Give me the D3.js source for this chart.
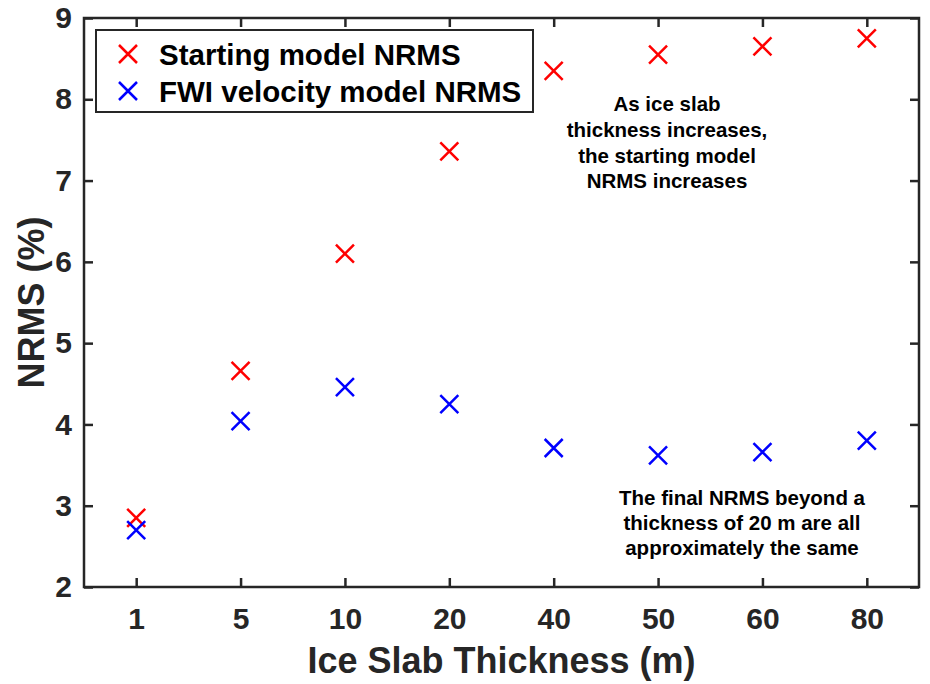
<!DOCTYPE html>
<html>
<head>
<meta charset="utf-8">
<script src="https://cdn.jsdelivr.net/npm/d3@7"></script>
<style>
  body { margin: 0; background: #fff; }
  text { font-family: 'Liberation Sans', Arial, Helvetica, sans-serif; font-weight: bold; }
</style>
</head>
<body>
<svg id="chart" width="930" height="684"></svg>
<script>
const thickness = ['1', '5', '10', '20', '40', '50', '60', '80'];
const startingNrms = [2.85, 4.66, 6.1, 7.36, 8.35, 8.55, 8.65, 8.75];
const fwiNrms = [2.7, 4.04, 4.46, 4.25, 3.71, 3.62, 3.66, 3.8];
const yTicks = [2, 3, 4, 5, 6, 7, 8, 9];

const svg = d3.select('#chart');
const plotLeft = 84, plotRight = 919, plotTop = 18, plotBottom = 587;
const axisColor = '#262626';

const x = d3.scalePoint().domain(thickness).range([plotLeft, plotRight]).padding(0.5);
const y = d3.scaleLinear().domain([2, 9]).range([plotBottom, plotTop]);

// box
svg.append('rect')
  .attr('x', plotLeft).attr('y', plotTop)
  .attr('width', plotRight - plotLeft).attr('height', plotBottom - plotTop)
  .attr('fill', 'none').attr('stroke', axisColor).attr('stroke-width', 2.5);

// axes with inward ticks
const tickLen = 9;
const xAxis = svg.append('g').attr('transform', `translate(0,${plotBottom})`)
  .call(d3.axisBottom(x).tickSizeInner(-tickLen).tickSizeOuter(0).tickPadding(21));
const xTop = svg.append('g').attr('transform', `translate(0,${plotTop})`)
  .call(d3.axisTop(x).tickSizeInner(-tickLen).tickSizeOuter(0).tickFormat(''));
const yAxis = svg.append('g').attr('transform', `translate(${plotLeft},0)`)
  .call(d3.axisLeft(y).tickValues(yTicks).tickSizeInner(-tickLen).tickSizeOuter(0).tickPadding(12).tickFormat(d3.format('d')));
const yRight = svg.append('g').attr('transform', `translate(${plotRight},0)`)
  .call(d3.axisRight(y).tickValues(yTicks).tickSizeInner(-tickLen).tickSizeOuter(0).tickFormat(''));

[xAxis, xTop, yAxis, yRight].forEach(g => {
  g.select('.domain').remove();
  g.selectAll('line').attr('stroke', axisColor).attr('stroke-width', 2.5);
  g.selectAll('text').attr('fill', axisColor).style('font-size', '30px');
});
xAxis.selectAll('text').attr('dy', '0.71em');

// axis labels
svg.append('text')
  .attr('x', (plotLeft + plotRight) / 2).attr('y', 673)
  .attr('text-anchor', 'middle').attr('fill', axisColor)
  .style('font-size', '36px')
  .text('Ice Slab Thickness (m)');

svg.append('text')
  .attr('transform', `translate(44,${(plotTop + plotBottom) / 2}) rotate(-90)`)
  .attr('text-anchor', 'middle').attr('fill', axisColor)
  .style('font-size', '36px')
  .text('NRMS (%)');

// x markers
const mark = 9;
function drawCross(g, cx, cy, color) {
  g.append('path')
    .attr('d', `M${cx - mark},${cy - mark}L${cx + mark},${cy + mark}M${cx - mark},${cy + mark}L${cx + mark},${cy - mark}`)
    .attr('stroke', color).attr('stroke-width', 2.5).attr('fill', 'none');
}

const series = [
  { name: 'Starting model NRMS', values: startingNrms, color: '#ff0000' },
  { name: 'FWI velocity model NRMS', values: fwiNrms, color: '#0000ff' }
];

series.forEach(s => {
  const g = svg.append('g');
  s.values.forEach((v, i) => drawCross(g, x(thickness[i]), y(v), s.color));
});

// annotations
const note1 = ['As ice slab', 'thickness increases,', 'the starting model', 'NRMS increases'];
const note2 = ['The final NRMS beyond a', 'thickness of 20 m are all', 'approximately the same'];

svg.append('text')
  .attr('text-anchor', 'middle').style('font-size', '20.5px').attr('fill', '#000')
  .selectAll('tspan').data(note1).join('tspan')
  .attr('x', 667).attr('y', (d, i) => 111 + i * 25.8).text(d => d);

svg.append('text')
  .attr('text-anchor', 'middle').style('font-size', '20.5px').attr('fill', '#000')
  .selectAll('tspan').data(note2).join('tspan')
  .attr('x', 742).attr('y', (d, i) => 505 + i * 25).text(d => d);

// legend
const legend = svg.append('g');
legend.append('rect')
  .attr('x', 96).attr('y', 30).attr('width', 437).attr('height', 82)
  .attr('fill', '#fff').attr('stroke', axisColor).attr('stroke-width', 2);
series.forEach((s, i) => {
  const ly = 54 + i * 37;
  drawCross(legend, 128, ly, s.color);
  legend.append('text')
    .attr('x', 159).attr('y', ly).attr('dy', '0.36em')
    .style('font-size', '29.5px').attr('fill', '#000')
    .text(s.name);
});
</script>
</body>
</html>
